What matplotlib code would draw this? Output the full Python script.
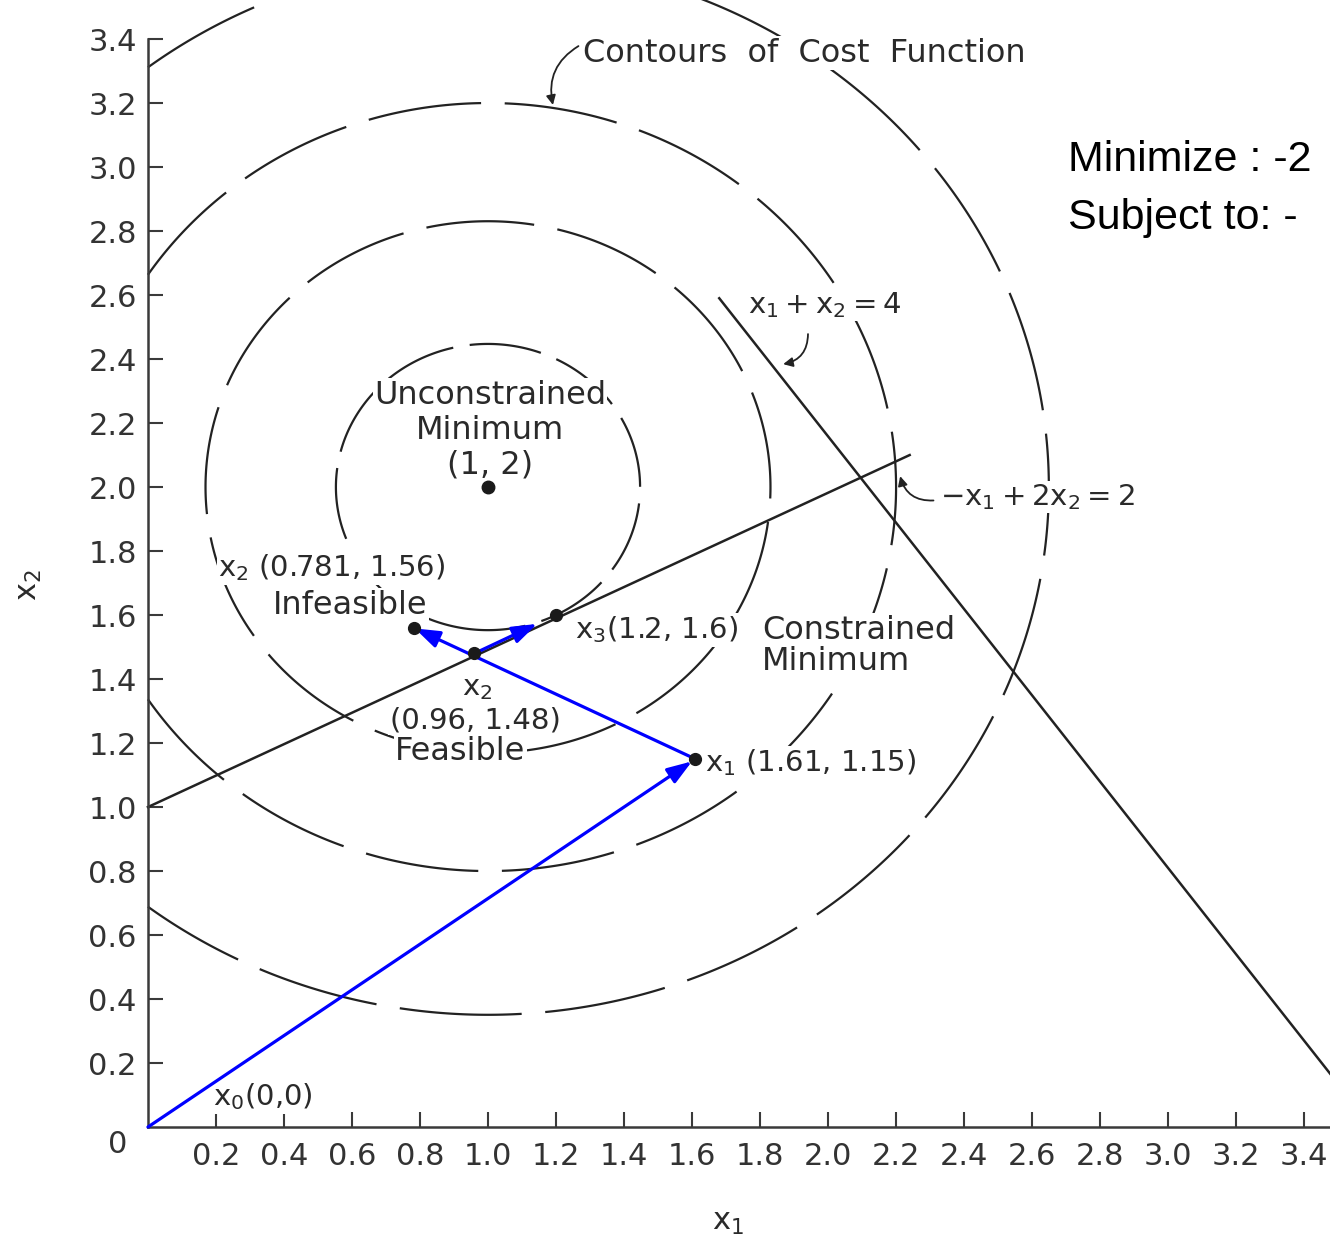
import matplotlib
matplotlib.use("Agg")
import matplotlib.pyplot as plt
import numpy as np

plt.rcParams['font.family'] = ['DejaVu Sans']
plt.rcParams['mathtext.default'] = 'regular'
plt.rcParams['lines.scale_dashes'] = False

# ---------------- data ----------------
cost_center = (1.0, 2.0)                       # unconstrained minimum
contour_levels = [0.20, 0.69, 1.44, 2.72]      # cost-function values of the drawn contours
x_ticks = [0.2, 0.4, 0.6, 0.8, 1.0, 1.2, 1.4, 1.6, 1.8, 2.0, 2.2, 2.4, 2.6, 2.8, 3.0, 3.2, 3.4]
y_ticks = [0.2, 0.4, 0.6, 0.8, 1.0, 1.2, 1.4, 1.6, 1.8, 2.0, 2.2, 2.4, 2.6, 2.8, 3.0, 3.2, 3.4]
x_tick_labels = ["0.2", "0.4", "0.6", "0.8", "1.0", "1.2", "1.4", "1.6", "1.8", "2.0",
                 "2.2", "2.4", "2.6", "2.8", "3.0", "3.2", "3.4"]
y_tick_labels = x_tick_labels

# constraint lines as drawn: -x1 + 2x2 = 2  and  x1 + x2 = 4
g1_x = [0.0, 2.24]
g1_y = [1.0, 2.10]
g2_x = [1.68, 3.60]
g2_y = [2.59, 0.00]

# iterates: x0, x1, x2 (infeasible), x2 (feasible), x3
iter_x = [0.0, 1.61, 0.781, 0.96, 1.2]
iter_y = [0.0, 1.15, 1.56, 1.48, 1.6]

INK = '#222222'
TXT = '#2a2a2a'
BLUE = '#0000ff'

fig = plt.figure(figsize=(13.3, 12.4), dpi=100)
ax = fig.add_axes([0, 0, 1, 1])
ax.set_xlim(-0.435, 3.476)
ax.set_ylim(-0.353, 3.522)

for s in ['top', 'right']:
    ax.spines[s].set_visible(False)
ax.spines['left'].set_position(('data', 0))
ax.spines['bottom'].set_position(('data', 0))
ax.spines['left'].set_bounds(0, 3.4)
ax.spines['bottom'].set_bounds(0, 3.476)
for s in ['left', 'bottom']:
    ax.spines[s].set_linewidth(1.8)
    ax.spines[s].set_color('#3a3a3a')

ax.set_xticks(x_ticks, x_tick_labels)
ax.set_yticks(y_ticks, y_tick_labels)
ax.tick_params(axis='both', direction='in', length=11, width=1.5, color='#3a3a3a',
               labelcolor='#333333', labelsize=22)
ax.tick_params(axis='x', pad=11)
ax.tick_params(axis='y', pad=8)
ax.text(-0.09, -0.055, '0', ha='center', va='center', fontsize=22, color='#333333')

# axis labels
ax.text(1.706, -0.297, '$x_1$', ha='center', va='center', fontsize=22, color=TXT)
ax.text(-0.347, 1.694, '$x_2$', ha='center', va='center', fontsize=22, color=TXT, rotation=90)

# ---------------- cost-function contours ----------------
gx = np.linspace(0.0, 3.6, 900)
gy = np.linspace(-0.4, 3.8, 900)
GX, GY = np.meshgrid(gx, gy)
F = (GX - cost_center[0]) ** 2 + (GY - cost_center[1]) ** 2
cs = ax.contour(GX, GY, F, levels=contour_levels, colors=INK, linewidths=1.6, zorder=2)
cs.set_linestyle([(0, (52, 12)), (0, (78, 17)), (0, (82, 17)), (0, (88, 17))])

# ---------------- constraint lines ----------------
ax.plot(g1_x, g1_y, color=INK, lw=1.8, zorder=2)
ax.plot(g2_x, g2_y, color=INK, lw=1.8, zorder=2)

# ---------------- iteration path (blue arrows) ----------------
steps = [(0, 1, 3), (1, 2, 1), (3, 4, 15)]
for i, j, shr in steps:
    ax.annotate('', xy=(iter_x[j], iter_y[j]), xytext=(iter_x[i], iter_y[i]),
                arrowprops=dict(arrowstyle='-|>,head_length=0.75,head_width=0.26',
                                color=BLUE, lw=2.3, mutation_scale=20,
                                shrinkA=0, shrinkB=shr), zorder=5)

ax.plot(iter_x[1:], iter_y[1:], 'o', color='#1a1a1a', ms=8.5, zorder=6)
ax.plot([cost_center[0]], [cost_center[1]], 'o', color='#1a1a1a', ms=9, zorder=6)

# ---------------- labels ----------------
wb = dict(facecolor='white', edgecolor='none', pad=1.0)
fs_num = 21
fs_word = 23

ax.text(1.279, 3.356, 'Contours  of  Cost  Function', ha='left', va='center',
        fontsize=fs_word, color=TXT, bbox=wb, zorder=3)
ax.annotate('', xy=(1.191, 3.194), xytext=(1.266, 3.378),
            arrowprops=dict(arrowstyle='-|>', connectionstyle='arc3,rad=0.35',
                            color=INK, lw=1.3, mutation_scale=14, shrinkA=0, shrinkB=0), zorder=3)

ax.text(1.765, 2.569, '$x_1 + x_2 = 4$', ha='left', va='center', fontsize=fs_num, color=TXT,
        bbox=wb, zorder=3)
ax.annotate('', xy=(1.868, 2.384), xytext=(1.941, 2.478),
            arrowprops=dict(arrowstyle='-|>', connectionstyle='arc3,rad=-0.4',
                            color=INK, lw=1.3, mutation_scale=14, shrinkA=0, shrinkB=0), zorder=3)

ax.text(2.33, 1.969, '$-x_1 + 2x_2 = 2$', ha='left', va='center', fontsize=fs_num, color=TXT,
        bbox=wb, zorder=3)
ax.annotate('', xy=(2.212, 2.034), xytext=(2.31, 1.958),
            arrowprops=dict(arrowstyle='-|>', connectionstyle='arc3,rad=-0.4',
                            color=INK, lw=1.3, mutation_scale=14, shrinkA=0, shrinkB=0), zorder=3)

ax.text(1.006, 2.2875, 'Unconstrained', ha='center', va='center',
        fontsize=fs_word, color=TXT, bbox=wb, zorder=3)
ax.text(1.006, 2.178, 'Minimum', ha='center', va='center',
        fontsize=fs_word, color=TXT, bbox=wb, zorder=3)
ax.text(1.006, 2.069, '(1, 2)', ha='center', va='center',
        fontsize=fs_word, color=TXT, bbox=wb, zorder=3)

ax.text(0.206, 1.747, '$x_2$ (0.781, 1.56)', ha='left', va='center', fontsize=fs_num,
        color=TXT, bbox=wb, zorder=3)
ax.text(0.594, 1.631, 'Infeasible', ha='center', va='center', fontsize=fs_word,
        color=TXT, bbox=wb, zorder=3)

ax.text(1.256, 1.553, '$x_3$(1.2, 1.6)', ha='left', va='center', fontsize=fs_num,
        color=TXT, bbox=wb, zorder=3)
ax.text(1.806, 1.553, 'Constrained', ha='left', va='center', fontsize=fs_word,
        color=TXT, bbox=wb, zorder=3)
ax.text(1.806, 1.456, 'Minimum', ha='left', va='center', fontsize=fs_word,
        color=TXT, bbox=wb, zorder=3)

ax.text(0.968, 1.372, '$x_2$', ha='center', va='center', fontsize=fs_num, color=TXT,
        bbox=wb, zorder=3)
ax.text(0.962, 1.272, '(0.96, 1.48)', ha='center', va='center', fontsize=fs_num, color=TXT,
        bbox=wb, zorder=3)
ax.text(0.918, 1.172, 'Feasible', ha='center', va='center', fontsize=fs_word, color=TXT,
        bbox=wb, zorder=3)

ax.text(1.638, 1.1375, '$x_1$ (1.61, 1.15)', ha='left', va='center', fontsize=fs_num,
        color=TXT, bbox=wb, zorder=3)

ax.text(0.191, 0.094, '$x_0$(0,0)', ha='left', va='center', fontsize=fs_num, color=TXT,
        bbox=wb, zorder=3)

# problem statement fragments visible at the right edge of the reference
fam = ['Liberation Sans', 'DejaVu Sans']
ax.text(2.706, 3.022, 'Minimize : -2', ha='left', va='center', fontsize=31,
        color='black', family=fam)
ax.text(2.706, 2.841, 'Subject to: -', ha='left', va='center', fontsize=31,
        color='black', family=fam)

fig.savefig('out.png', dpi=100)
